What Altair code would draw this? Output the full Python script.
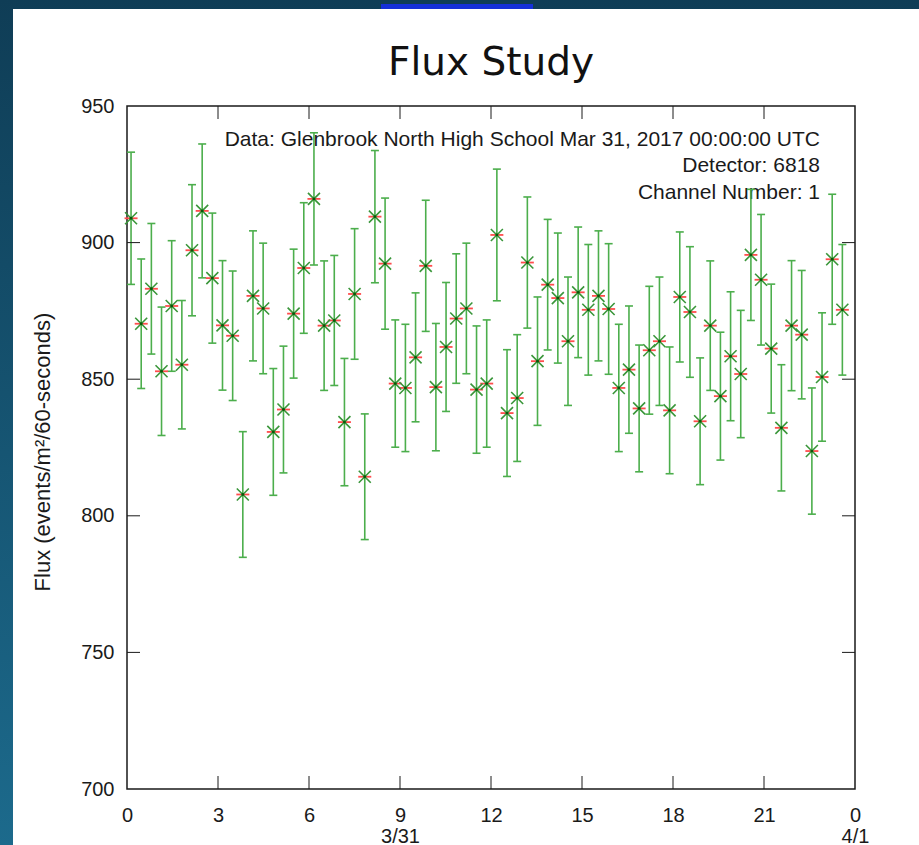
import altair as alt
import pandas as pd

# ---- data ----
flux = [908.9, 870.3, 883.1, 852.9, 876.8, 855.3, 897.2, 911.6, 887.0, 869.7,
        865.9, 807.8, 880.5, 875.9, 830.7, 838.9, 874.0, 890.7, 916.0, 869.6,
        871.5, 834.3, 881.2, 814.3, 909.5, 892.3, 848.4, 846.8, 858.0, 891.5,
        847.1, 861.8, 872.2, 875.9, 846.2, 848.4, 902.8, 837.6, 843.1, 892.7,
        856.6, 884.6, 879.7, 863.9, 881.8, 875.4, 880.5, 875.7, 846.8, 853.5,
        839.3, 860.6, 863.9, 838.6, 880.1, 874.6, 834.6, 869.6, 843.8, 858.4,
        851.9, 895.5, 886.4, 861.2, 832.2, 869.6, 866.3, 823.7, 850.8, 893.9,
        875.4]
err = [24.2, 23.7, 23.9, 23.5, 23.9, 23.5, 24.0, 24.5, 23.8, 23.7,
       23.7, 23.0, 23.8, 23.9, 23.2, 23.2, 23.6, 23.9, 24.2, 23.7,
       23.8, 23.3, 23.9, 23.0, 24.2, 24.0, 23.3, 23.3, 23.6, 24.0,
       23.3, 23.6, 23.7, 23.9, 23.3, 23.3, 24.1, 23.2, 23.2, 24.0,
       23.5, 23.9, 23.8, 23.5, 23.9, 23.9, 23.8, 23.9, 23.3, 23.3,
       23.2, 23.4, 23.5, 23.2, 23.8, 23.9, 23.2, 23.7, 23.4, 23.6,
       23.3, 24.0, 23.9, 23.6, 23.1, 23.8, 23.5, 23.1, 23.5, 23.8,
       23.9]
# sample times (minutes after 3/31 00:00 UTC), ~20-minute bins
minutes = [8 + 20.1 * k for k in range(len(flux))]

x_tick_values = [0, 3, 6, 9, 12, 15, 18, 21, 24]
y_tick_values = [700, 750, 800, 850, 900, 950]
inner_x_ticks = [3, 6, 9, 12, 15, 18, 21]
inner_y_ticks = [750, 800, 850, 900]
notes = ["Data: Glenbrook North High School Mar 31, 2017 00:00:00 UTC",
         "Detector: 6818",
         "Channel Number: 1"]
chart_title = "Flux Study"
y_title = "Flux (events/m\u00b2/60-seconds)"

# ---- layout / style ----
W, H = 728, 683
PL, PT, PR, PB = 127, 106, 64, 56
BAR = "#4cae4c"
XCOL = "#3a963a"
RED = "#ff4d4d"
INK = "#1a1a1a"
FONT = "Liberation Sans"

df = pd.DataFrame({
    "hour": [m / 60 for m in minutes],
    "flux": flux,
    "lo": [f - e for f, e in zip(flux, err)],
    "hi": [f + e for f, e in zip(flux, err)],
})
one = pd.DataFrame({"k": [0]})

xs = alt.Scale(domain=[0, 24], nice=False, zero=False)
ys = alt.Scale(domain=[700, 950], nice=False, zero=False)

x_axis = alt.Axis(values=x_tick_values, title="", ticks=False, grid=False, domain=False,
                  labelFont=FONT, labelFontSize=20, labelColor=INK, labelPadding=16,
                  labelFlush=False, labelOverlap=False, labelLineHeight=21, zindex=2,
                  labelExpr="datum.value == 9 ? ['9', '3/31'] : datum.value == 24 ? ['0', '4/1'] : datum.label")
y_axis = alt.Axis(values=y_tick_values, title=y_title, ticks=False, grid=False, domain=False,
                  labelFont=FONT, labelFontSize=20, labelColor=INK, labelPadding=13,
                  labelFlush=False, labelOverlap=False, zindex=2,
                  titleFont=FONT, titleFontSize=22, titleFontWeight="normal", titleColor=INK,
                  titleAngle=270, titleX=-85, titleY=H / 2 + 4, titleBaseline="middle",
                  titleAlign="center")

X = alt.X("hour:Q", scale=xs, axis=x_axis)
Xn = alt.X("hour:Q", scale=xs)

# page background (slide) and white panel
bg = alt.Chart(one).mark_rect(
    fill=alt.Gradient(gradient="linear", x1=0, x2=0, y1=0, y2=1,
                      stops=[alt.GradientStop(color="#0f3d56", offset=0),
                             alt.GradientStop(color="#1c6a8c", offset=1)])
).encode(x=alt.value(-PL), x2=alt.value(W + PR), y=alt.value(-PT), y2=alt.value(H + PB))
panel = alt.Chart(one).mark_rect(fill="white").encode(
    x=alt.value(13 - PL), x2=alt.value(W + PR), y=alt.value(9 - PT), y2=alt.value(H + PB))
link = alt.Chart(one).mark_rect(fill="#1530d8").encode(
    x=alt.value(381 - PL), x2=alt.value(533 - PL), y=alt.value(4 - PT), y2=alt.value(9 - PT))

# plot frame
frame = alt.Chart(one).mark_rect(filled=False, stroke=INK, strokeWidth=1.5).encode(
    x=alt.value(0), x2=alt.value(W), y=alt.value(0), y2=alt.value(H))

note_text = alt.Chart(one).mark_text(
    text=notes, align="right", baseline="alphabetic", font=FONT, fontSize=21,
    lineHeight=26.5, color=INK
).encode(x=alt.value(820 - PL), y=alt.value(145.5 - PT))

base = alt.Chart(df)
bars = base.mark_rule(color=BAR, strokeWidth=1.6).encode(
    x=X, y=alt.Y("lo:Q", scale=ys, axis=y_axis), y2="hi:Q")
cap_lo = base.mark_point(shape="M-1,0L1,0", filled=False, size=64, color=BAR,
                         strokeWidth=1.6, opacity=1).encode(
    x=Xn, y=alt.Y("lo:Q", scale=ys))
cap_hi = base.mark_point(shape="M-1,0L1,0", filled=False, size=64, color=BAR,
                         strokeWidth=1.6, opacity=1).encode(
    x=Xn, y=alt.Y("hi:Q", scale=ys))
red = base.mark_point(shape="M-1,0L1,0", filled=False, size=169, color=RED,
                      strokeWidth=1.8, opacity=1).encode(
    x=Xn, y=alt.Y("flux:Q", scale=ys))
greenx = base.mark_point(shape="M-1,-1L1,1M-1,1L1,-1", filled=False, size=144, color=XCOL,
                         strokeWidth=1.6, opacity=1).encode(
    x=Xn, y=alt.Y("flux:Q", scale=ys))
dot = base.mark_point(shape="circle", filled=True, size=8, color="#0b560b", opacity=1).encode(
    x=Xn, y=alt.Y("flux:Q", scale=ys))

tx = pd.DataFrame({"hour": inner_x_ticks})
ty = pd.DataFrame({"flux": inner_y_ticks})
TK = 13
tick_b = alt.Chart(tx).mark_rule(color=INK, strokeWidth=1).encode(
    x=alt.X("hour:Q", scale=xs), y=alt.value(H - TK), y2=alt.value(H))
tick_t = alt.Chart(tx).mark_rule(color=INK, strokeWidth=1).encode(
    x=alt.X("hour:Q", scale=xs), y=alt.value(0), y2=alt.value(TK))
tick_l = alt.Chart(ty).mark_rule(color=INK, strokeWidth=1).encode(
    y=alt.Y("flux:Q", scale=ys), x=alt.value(0), x2=alt.value(TK))
tick_r = alt.Chart(ty).mark_rule(color=INK, strokeWidth=1).encode(
    y=alt.Y("flux:Q", scale=ys), x=alt.value(W - TK), x2=alt.value(W))

chart = alt.layer(
    bg, panel, link, frame, note_text, bars, cap_lo, cap_hi, red, greenx, dot,
    tick_b, tick_t, tick_l, tick_r
).properties(
    width=W, height=H,
    padding={"left": PL, "top": PT, "right": PR, "bottom": PB},
    autosize=alt.AutoSizeParams(type="none"),
    background="#14506f",
    title=alt.Title(chart_title, font="DejaVu Sans", fontSize=39, fontWeight="normal",
                    color="#111111", anchor="middle", frame="group",
                    baseline="alphabetic", offset=-114),
).configure_view(strokeWidth=0)

chart.save("out.html", embed_options={"renderer": "svg", "actions": False})
